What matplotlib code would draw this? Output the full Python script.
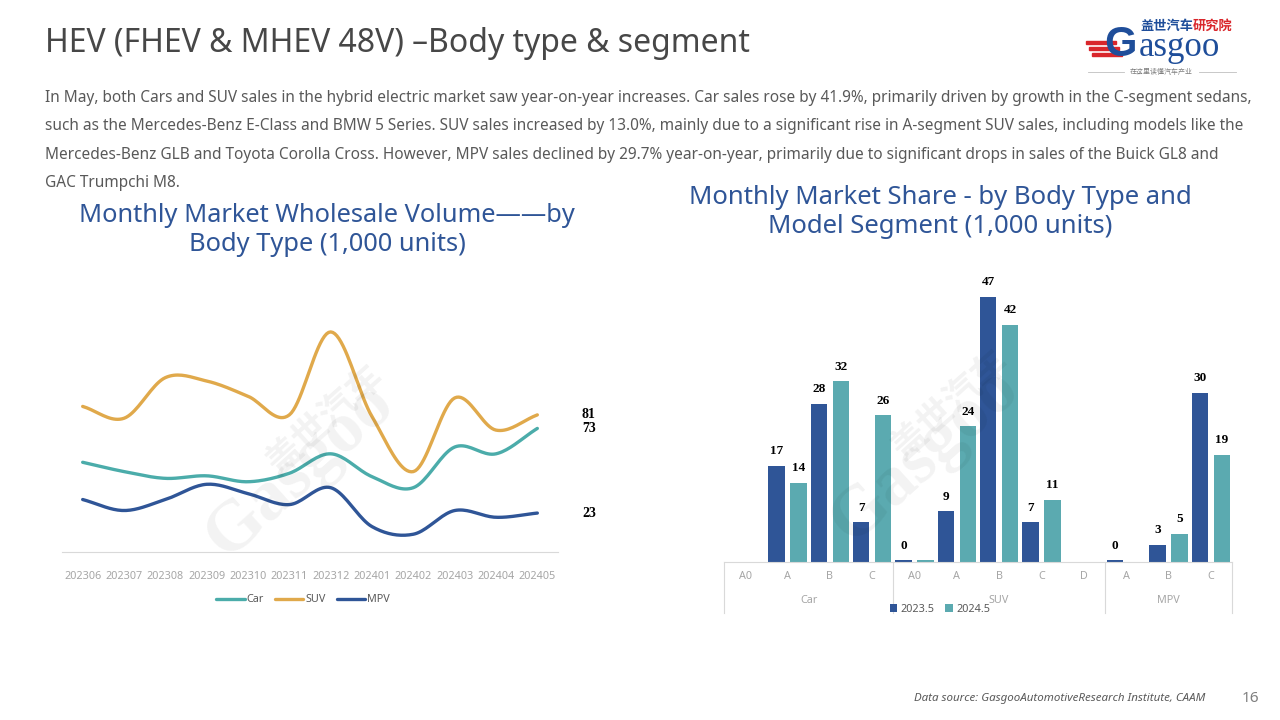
import numpy as np
import matplotlib
matplotlib.use("Agg")
import matplotlib.pyplot as plt
from matplotlib.patches import Rectangle

plt.rcParams['font.family'] = ['Noto Sans', 'Noto Sans CJK SC', 'DejaVu Sans']

# ---- data: monthly wholesale volume (1,000 units)
months = ['202306', '202307', '202308', '202309', '202310', '202311',
          '202312', '202401', '202402', '202403', '202404', '202405']
car = [53, 47.5, 43.5, 45, 41.5, 46.5, 58, 44.5, 38, 62, 58, 73]
suv = [86, 79, 103, 101, 92, 81, 130, 80, 47.5, 91, 72, 81]
mpv = [31, 24.5, 31, 40, 34.5, 28, 38, 15, 10.5, 24.5, 20.5, 23]

# ---- data: body type / segment
segments = ['A0', 'A', 'B', 'C', 'A0', 'A', 'B', 'C', 'D', 'A', 'B', 'C']
groups = ['Car', 'SUV', 'MPV']
group_sizes = [4, 5, 3]
vol_2023 = [None, 17, 28, 7, 0.3, 9, 47, 7, None, 0.3, 3, 30]
vol_2024 = [None, 14, 32, 26, 0.3, 24, 42, 11, None, None, 5, 19]
lab_2023 = [None, '17', '28', '7', '0', '9', '47', '7', None, '0', '3', '30']
lab_2024 = [None, '14', '32', '26', None, '24', '42', '11', None, None, '5', '19']

c_car = '#4BACAA'
c_suv = '#E0A94B'
c_mpv = '#2F5597'
c_bar1 = '#2F5597'
c_bar2 = '#5BAAB0'
title_blue = '#2F5597'


def smooth(y, n=20):
    # catmull-rom through the read points (Excel "smoothed line" look)
    y = np.asarray(y, float)
    p = np.concatenate([[2 * y[0] - y[1]], y, [2 * y[-1] - y[-2]]])
    xs, ys = [], []
    for i in range(len(y) - 1):
        t = np.linspace(0, 1, n, endpoint=False)
        p0, p1, p2, p3 = p[i], p[i + 1], p[i + 2], p[i + 3]
        yy = 0.5 * ((2 * p1) + (-p0 + p2) * t + (2 * p0 - 5 * p1 + 4 * p2 - p3) * t ** 2
                    + (-p0 + 3 * p1 - 3 * p2 + p3) * t ** 3)
        xs.append(i + t)
        ys.append(yy)
    xs.append([len(y) - 1])
    ys.append([y[-1]])
    return np.concatenate(xs), np.concatenate(ys)


fig = plt.figure(figsize=(12.8, 7.2), dpi=100)
fig.patch.set_facecolor('white')

# ---- header
fig.text(45 / 1280, 1 - 44 / 720, 'HEV (FHEV & MHEV 48V) \u2013Body type & segment',
         fontsize=23, color='#474747', va='center', ha='left', fontweight='light')

para = ['In May, both Cars and SUV sales in the hybrid electric market saw year-on-year increases. Car sales rose by 41.9%, primarily driven by growth in the C-segment sedans,',
        'such as the Mercedes-Benz E-Class and BMW 5 Series. SUV sales increased by 13.0%, mainly due to a significant rise in A-segment SUV sales, including models like the',
        'Mercedes-Benz GLB and Toyota Corolla Cross. However, MPV sales declined by 29.7% year-on-year, primarily due to significant drops in sales of the Buick GL8 and',
        'GAC Trumpchi M8.']
for i, line in enumerate(para):
    fig.text(45 / 1280, 1 - (98 + i * 28.3) / 720, line, fontsize=11.1, color='#595959',
             va='center', ha='left')

# ---- logo
fig.text(1140 / 1280, 1 - 26 / 720, '盖世汽车', fontsize=9.5, color='#1F4E9A', fontweight='bold',
         va='center', ha='left', family=['Noto Sans CJK SC'])
fig.text(1193 / 1280, 1 - 26 / 720, '研究院', fontsize=9.5, color='#D9262B', fontweight='bold',
         va='center', ha='left', family=['Noto Sans CJK SC'])
fig.text(1139 / 1280, 1 - 47 / 720, 'asgoo', fontsize=25, color='#1F4E9A',
         va='center', ha='left', family=['Liberation Serif'])
fig.text(1104 / 1280, 1 - 45 / 720, 'G', fontsize=30, color='#1F4E9A', fontweight='bold',
         va='center', ha='left', family=['Liberation Sans'])
for k in range(3):
    fig.patches.append(Rectangle(((1086 + k * 3) / 1280, 1 - (44 + k * 6) / 720), 30 / 1280, 3 / 720,
                                 transform=fig.transFigure, color='#D9262B'))
fig.text(1161 / 1280, 1 - 72 / 720, '在这里读懂汽车产业', fontsize=5, color='#7f7f7f',
         va='center', ha='center', family=['Noto Sans CJK SC'])
fig.lines.append(plt.Line2D([1088 / 1280, 1124 / 1280], [1 - 72 / 720] * 2, transform=fig.transFigure,
                            color='#bfbfbf', lw=0.6))
fig.lines.append(plt.Line2D([1199 / 1280, 1236 / 1280], [1 - 72 / 720] * 2, transform=fig.transFigure,
                            color='#bfbfbf', lw=0.6))

# ---- chart titles
fig.text(327 / 1280, 1 - 230 / 720, 'Monthly Market Wholesale Volume\u2014\u2014by\nBody Type (1,000 units)',
         fontsize=18.3, color=title_blue, ha='center', va='center', linespacing=1.2)
fig.text(940 / 1280, 1 - 212 / 720, 'Monthly Market Share - by Body Type and\nModel Segment (1,000 units)',
         fontsize=18.5, color=title_blue, ha='center', va='center', linespacing=1.2)

# ---- watermarks
for cx, cy in [(320, 455), (945, 440)]:
    fig.text((cx - 20) / 1280, 1 - (cy + 15) / 720, 'Gasgoo', fontsize=52, color='#000000', alpha=0.05,
             rotation=42, ha='center', va='center', family=['Liberation Serif'], fontweight='bold')
    fig.text((cx + 5) / 1280, 1 - (cy - 35) / 720, '盖世汽车', fontsize=26, color='#000000', alpha=0.05,
             rotation=42, ha='center', va='center', family=['Noto Sans CJK SC'], fontweight='bold')

# ---- line chart
ax1 = fig.add_axes([62 / 1280, 1 - 552 / 720, 496 / 1280, 237 / 720])
x = np.arange(len(months))
for vals, col, name in [(car, c_car, 'Car'), (suv, c_suv, 'SUV'), (mpv, c_mpv, 'MPV')]:
    sx, sy = smooth(vals)
    ax1.plot(sx, sy, color=col, lw=2.4, label=name, solid_capstyle='round')
    ax1.text(x[-1] + 1.08, vals[-1], str(int(round(vals[-1]))), fontsize=10, fontweight='bold',
             family=['Liberation Serif'], va='center', ha='left', color='black')
ax1.set_xlim(-0.5, len(months) - 0.5)
ax1.set_ylim(0, 140)
ax1.set_xticks(x)
ax1.set_xticklabels(months, fontsize=7.8, color='#a6a6a6')
ax1.tick_params(axis='x', length=0, pad=14)
ax1.set_yticks([])
for s in ['top', 'right', 'left']:
    ax1.spines[s].set_visible(False)
ax1.spines['bottom'].set_color('#d9d9d9')
ax1.patch.set_alpha(0)
fig.legend(*ax1.get_legend_handles_labels(), loc='center', bbox_to_anchor=(303 / 1280, 1 - 600 / 720),
           ncol=3, frameon=False, fontsize=7.8, handlelength=2.6, handletextpad=0.2, columnspacing=1.0,
           labelcolor='#595959')

# ---- bar chart
ax2 = fig.add_axes([724 / 1280, 1 - 561.7 / 720, 508 / 1280, 282 / 720])
bx = np.arange(len(segments))
w = 0.39
h1 = [v if v is not None else 0 for v in vol_2023]
h2 = [v if v is not None else 0 for v in vol_2024]
ax2.bar(bx - 0.26, h1, width=w, color=c_bar1, label='2023.5')
ax2.bar(bx + 0.26, h2, width=w, color=c_bar2, label='2024.5')
for i in range(len(segments)):
    for off, hv, lb in [(-0.26, h1[i], lab_2023[i]), (0.26, h2[i], lab_2024[i])]:
        if lb is not None:
            ax2.annotate(lb, (bx[i] + off, hv), xytext=(0, 6), textcoords='offset points',
                         ha='center', va='bottom', fontsize=9.5, fontweight='bold',
                         family=['Liberation Serif'])
ax2.set_xlim(-0.5, len(segments) - 0.5)
ax2.set_ylim(0, 50)
ax2.set_xticks([])
ax2.set_yticks([])
for s in ['top', 'right', 'left']:
    ax2.spines[s].set_visible(False)
ax2.spines['bottom'].set_color('#d9d9d9')
ax2.patch.set_alpha(0)
tr = ax2.get_xaxis_transform()
for i, seg in enumerate(segments):
    ax2.text(bx[i], -0.053, seg, transform=tr, ha='center', va='center', fontsize=7.8, color='#a6a6a6')
start = 0
edges = [-0.5]
for g, n in zip(groups, group_sizes):
    ax2.text(start + (n - 1) / 2, -0.136, g, transform=tr, ha='center', va='center',
             fontsize=7.8, color='#a6a6a6')
    start += n
    edges.append(start - 0.5)
for e in edges:
    ax2.plot([e, e], [0, -0.182], transform=tr, color='#d9d9d9', lw=0.8, clip_on=False)
fig.legend(*ax2.get_legend_handles_labels(), loc='center', bbox_to_anchor=(940 / 1280, 1 - 609 / 720),
           ncol=2, frameon=False, fontsize=7.8, handlelength=0.7, handleheight=0.7, handletextpad=0.3,
           columnspacing=1.0, labelcolor='#595959')

# ---- footer
fig.text(1205 / 1280, 1 - 698 / 720, 'Data source: GasgooAutomotiveResearch Institute, CAAM',
         fontsize=8.3, color='#595959', style='italic', ha='right', va='center')
fig.text(1250 / 1280, 1 - 699 / 720, '16', fontsize=11, color='#7f7f7f', ha='center', va='center')

fig.savefig('out.png', dpi=100)
